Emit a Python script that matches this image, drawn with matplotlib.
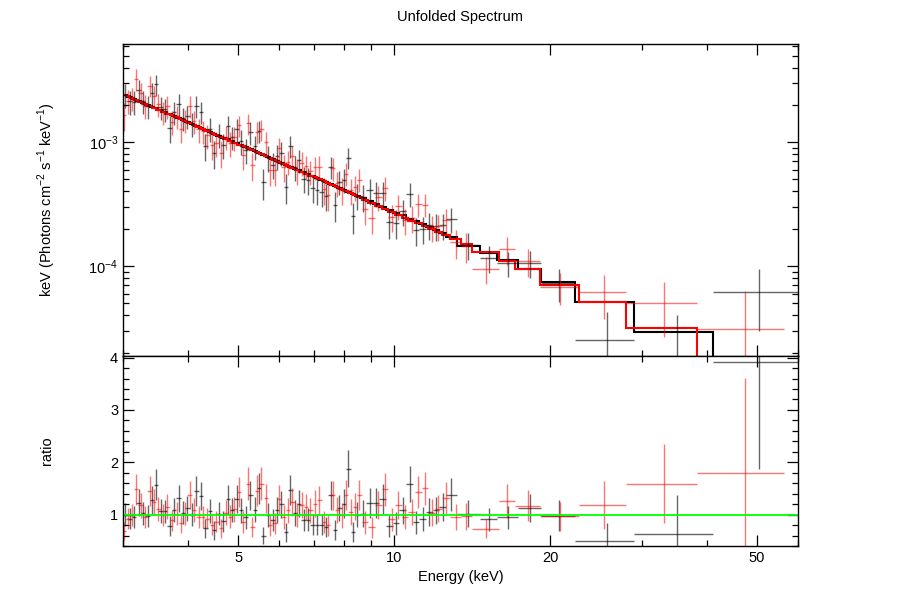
import numpy as np
import matplotlib.pyplot as plt
from matplotlib.ticker import FixedLocator, NullFormatter, LogLocator, MultipleLocator

plt.rcParams['font.family'] = 'Liberation Sans'
plt.rcParams['mathtext.fontset'] = 'custom'
plt.rcParams['mathtext.rm'] = 'Liberation Sans'
plt.rcParams['font.size'] = 10.5

# data group 1 (black): bin edges in keV, model in 1e-4 keV ph/cm2/s/keV, data/model ratio and error
black_edges = [3.00, 3.06, 3.12, 3.18, 3.25, 3.31, 3.38, 3.44, 3.51, 3.58, 3.65, 3.73, 3.80, 3.88,
               3.95, 4.03, 4.11, 4.20, 4.28, 4.37, 4.45, 4.54, 4.63, 4.73, 4.82, 4.92, 5.02,
               5.12, 5.22, 5.33, 5.43, 5.54, 5.65, 5.77, 5.88, 6.00, 6.12, 6.24, 6.37, 6.49,
               6.62, 6.76, 6.89, 7.03, 7.17, 7.31, 7.46, 7.61, 7.76, 7.92, 8.07, 8.24, 8.40, 8.57,
               8.83, 9.09, 9.36, 9.65, 9.93, 10.23, 10.54, 10.86, 11.18, 11.52, 11.86, 12.22,
               12.58, 13.20, 14.6, 15.8, 17.3, 19.2, 22.3, 29.0, 41.1, 60.0]
black_model = [24.06, 23.21, 22.39, 21.60, 20.83, 20.10, 19.38, 18.70, 18.04, 17.40, 16.78, 16.19,
               15.62, 15.06, 14.53, 14.02, 13.52, 13.04, 12.58, 12.14, 11.71, 11.29, 10.89, 10.51,
               10.14, 9.78,
               9.43, 9.10, 8.78, 8.47, 8.17, 7.88, 7.60, 7.33, 7.07, 6.82, 6.58, 6.35, 6.12, 5.91,
               5.70, 5.50, 5.30, 5.11, 4.93, 4.76, 4.59, 4.43, 4.27, 4.12, 3.97, 3.83, 3.70,
               3.53, 3.34, 3.17, 3.00, 2.85, 2.70, 2.56, 2.42, 2.29, 2.17, 2.06, 1.95, 1.85, 1.73,
               1.45, 1.28, 1.11, 0.94, 0.74, 0.516, 0.294, 0.158]
black_ratio = [1.00, 0.92, 0.95, 1.23, 1.03, 0.97, 1.28, 1.57, 1.06, 1.06, 0.78, 1.08, 1.31,
               1.04, 1.12, 1.00, 1.45, 1.35, 0.74, 1.06, 0.70, 1.02, 0.87, 1.29, 1.08, 1.30,
               1.08, 0.95, 1.37, 1.09, 1.50, 0.60, 0.99, 0.90, 1.09, 1.20, 0.66, 1.47, 1.03,
               1.21, 0.89, 0.90, 0.81, 0.81, 0.81, 0.77, 1.37, 0.70, 1.12, 1.21, 1.88, 0.66, 1.00,
               1.02, 1.22, 1.22, 1.30, 0.79, 0.83, 1.08, 1.59, 0.85, 0.92, 1.05, 1.08, 1.15, 1.38,
               1.02, 0.91, 0.95, 1.13, 0.98, 0.49, 0.62, 3.92]
black_err = [0.22, 0.20, 0.21, 0.25, 0.22, 0.21, 0.26, 0.30, 0.23, 0.22, 0.19, 0.23, 0.26,
             0.22, 0.24, 0.22, 0.29, 0.27, 0.18, 0.23, 0.18, 0.22, 0.20, 0.27, 0.23, 0.27,
             0.24, 0.22, 0.28, 0.24, 0.30, 0.17, 0.23, 0.21, 0.25, 0.26, 0.18, 0.29, 0.24,
             0.26, 0.21, 0.22, 0.20, 0.20, 0.20, 0.19, 0.28, 0.19, 0.25, 0.27, 0.36, 0.19, 0.24,
             0.25, 0.28, 0.28, 0.29, 0.21, 0.22, 0.26, 0.34, 0.22, 0.23, 0.26, 0.26, 0.27, 0.31,
             0.25, 0.22, 0.22, 0.27, 0.29, 0.34, 0.76, 2.04]

# data group 2 (red)
red_edges = [3.00, 3.04, 3.09, 3.15, 3.21, 3.28, 3.34, 3.41, 3.47, 3.55, 3.62, 3.69, 3.77, 3.84,
             3.92, 3.99, 4.07, 4.15, 4.24, 4.32, 4.41, 4.49, 4.59, 4.68, 4.78, 4.87, 4.97, 5.07,
             5.17, 5.27, 5.38, 5.49, 5.60, 5.71, 5.82, 5.94, 6.06, 6.18, 6.30, 6.43, 6.56,
             6.69, 6.82, 6.96, 7.10, 7.24, 7.38, 7.53, 7.68, 7.84, 7.99, 8.15, 8.32, 8.48, 8.65,
             8.91, 9.18, 9.45, 9.74, 10.03, 10.33, 10.64, 10.96, 11.29, 11.63, 11.98, 12.34,
             12.80, 13.45, 14.1, 15.9, 17.1, 19.1, 22.7, 28.0, 38.3, 56.5]
red_model = [24.2, 23.56, 22.73, 21.92, 21.15, 20.40, 19.68, 18.98, 18.31, 17.66, 17.03, 16.43,
             15.85, 15.29, 14.75, 14.23, 13.72, 13.24, 12.77, 12.32, 11.88, 11.46, 11.06, 10.66,
             10.29, 9.92, 9.57,
             9.23, 8.91, 8.59, 8.29, 7.99, 7.71, 7.44, 7.17, 6.92, 6.67, 6.44, 6.21, 5.99, 5.78,
             5.57, 5.38, 5.19, 5.00, 4.83, 4.66, 4.49, 4.33, 4.18, 4.03, 3.89, 3.75, 3.62,
             3.40, 3.22, 3.05, 2.89, 2.74, 2.60, 2.46, 2.33, 2.21, 2.09, 1.98, 1.88, 1.77,
             1.64, 1.50, 1.30, 1.09, 0.94, 0.697, 0.516, 0.319, 0.175]
red_ratio = [0.68, 0.92, 1.00, 1.48, 1.18, 0.96, 1.45, 1.24, 1.11, 0.99, 1.15, 0.89, 1.02,
             0.83, 1.02, 1.38, 1.08, 0.96, 0.96, 0.92, 0.80, 0.86, 0.74, 1.04, 0.96, 1.10, 1.43,
             0.86, 1.59, 0.76, 1.46, 1.59, 1.31, 0.80, 0.83, 1.29, 0.95, 1.08, 1.24, 0.99,
             1.18, 1.15, 1.08, 1.21, 1.27, 0.86, 0.80, 1.37, 1.08, 0.99, 1.38, 1.05, 1.15, 1.38,
             0.85, 0.76, 1.18, 1.48, 0.91, 1.18, 0.95, 1.05, 1.43, 1.50, 1.04, 1.11, 1.32,
             0.95, 0.97, 0.73, 1.26, 1.17, 0.97, 1.19, 1.59, 1.79]
red_err = [0.17, 0.20, 0.21, 0.29, 0.24, 0.21, 0.28, 0.25, 0.23, 0.21, 0.24, 0.20, 0.22,
           0.19, 0.22, 0.27, 0.23, 0.21, 0.21, 0.20, 0.19, 0.20, 0.18, 0.23, 0.22, 0.24, 0.28,
           0.21, 0.31, 0.19, 0.29, 0.31, 0.27, 0.20, 0.21, 0.27, 0.23, 0.24, 0.26, 0.23,
           0.25, 0.25, 0.24, 0.26, 0.27, 0.21, 0.20, 0.28, 0.25, 0.24, 0.29, 0.25, 0.26, 0.29,
           0.22, 0.20, 0.27, 0.32, 0.22, 0.27, 0.23, 0.25, 0.31, 0.32, 0.25, 0.26, 0.30,
           0.25, 0.26, 0.18, 0.32, 0.30, 0.28, 0.46, 0.75, 1.82]

W, H = 903, 606
fig = plt.figure(figsize=(W / 100, H / 100), dpi=100)
ax1 = fig.add_axes([123 / W, 1 - 356 / H, 675 / W, 312 / H])
ax2 = fig.add_axes([123 / W, 1 - 546 / H, 675 / W, 190 / H], sharex=ax1)


def draw(edges, model, ratio, err, color, alpha):
    edges = np.array(edges)
    model = np.array(model) * 1e-4
    ratio = np.array(ratio)
    err = np.array(err)
    cen = 0.5 * (edges[:-1] + edges[1:])
    xerr = [cen - edges[:-1], edges[1:] - cen]
    ax1.errorbar(cen, model * ratio, xerr=xerr, yerr=model * err, fmt='none',
                 ecolor=color, elinewidth=1.0, alpha=alpha, capsize=0)
    ax2.errorbar(cen, ratio, xerr=xerr, yerr=err, fmt='none',
                 ecolor=color, elinewidth=1.0, alpha=alpha, capsize=0)
    return edges, model


be, bm = draw(black_edges, black_model, black_ratio, black_err, 'black', 0.6)
re, rm = draw(red_edges, red_model, red_ratio, red_err, 'red', 0.55)
ax1.stairs(bm, be, baseline=None, color='black', lw=1.5)
ax1.stairs(rm, re, baseline=None, color='red', lw=1.5)
ax2.axhline(1.0, color='#00ff00', lw=1.3)

ax1.set_xscale('log')
ax1.set_yscale('log')
ax1.set_xlim(3, 60)
ax1.set_ylim(1.88e-5, 6.2e-3)
ax2.set_ylim(0.40, 4.03)

for ax in (ax1, ax2):
    ax.xaxis.set_major_locator(FixedLocator([5, 10, 20, 50]))
    ax.xaxis.set_minor_locator(FixedLocator([3, 4, 6, 7, 8, 9, 30, 40, 60]))
    ax.xaxis.set_minor_formatter(NullFormatter())
    ax.tick_params(which='both', direction='in', top=True, right=True, width=0.9)
    ax.tick_params(which='major', length=8)
    ax.tick_params(which='minor', length=4)
    for s in ax.spines.values():
        s.set_linewidth(1.0)

ax1.yaxis.set_major_locator(LogLocator(base=10, numticks=10))
ax1.yaxis.set_minor_locator(LogLocator(base=10, subs=np.arange(2, 10), numticks=20))
ax1.yaxis.set_minor_formatter(NullFormatter())
ax1.tick_params(labelbottom=False)
ax2.xaxis.set_major_formatter(plt.FuncFormatter(lambda v, p: '%g' % v))
ax2.yaxis.set_major_locator(MultipleLocator(1))
ax2.yaxis.set_minor_locator(MultipleLocator(0.2))

fig.text(460.5 / W, 1 - 17 / H, 'Unfolded Spectrum', ha='center', va='center', fontsize=10.5)
fig.text(47 / W, 1 - 200 / H, r'keV (Photons cm$^{-2}$ s$^{-1}$ keV$^{-1}$)',
         rotation=90, ha='center', va='center')
fig.text(47 / W, 1 - 451 / H, 'ratio', rotation=90, ha='center', va='center')
fig.text(460.5 / W, 1 - 577 / H, 'Energy (keV)', ha='center', va='center')

fig.savefig('out.png', dpi=100)
